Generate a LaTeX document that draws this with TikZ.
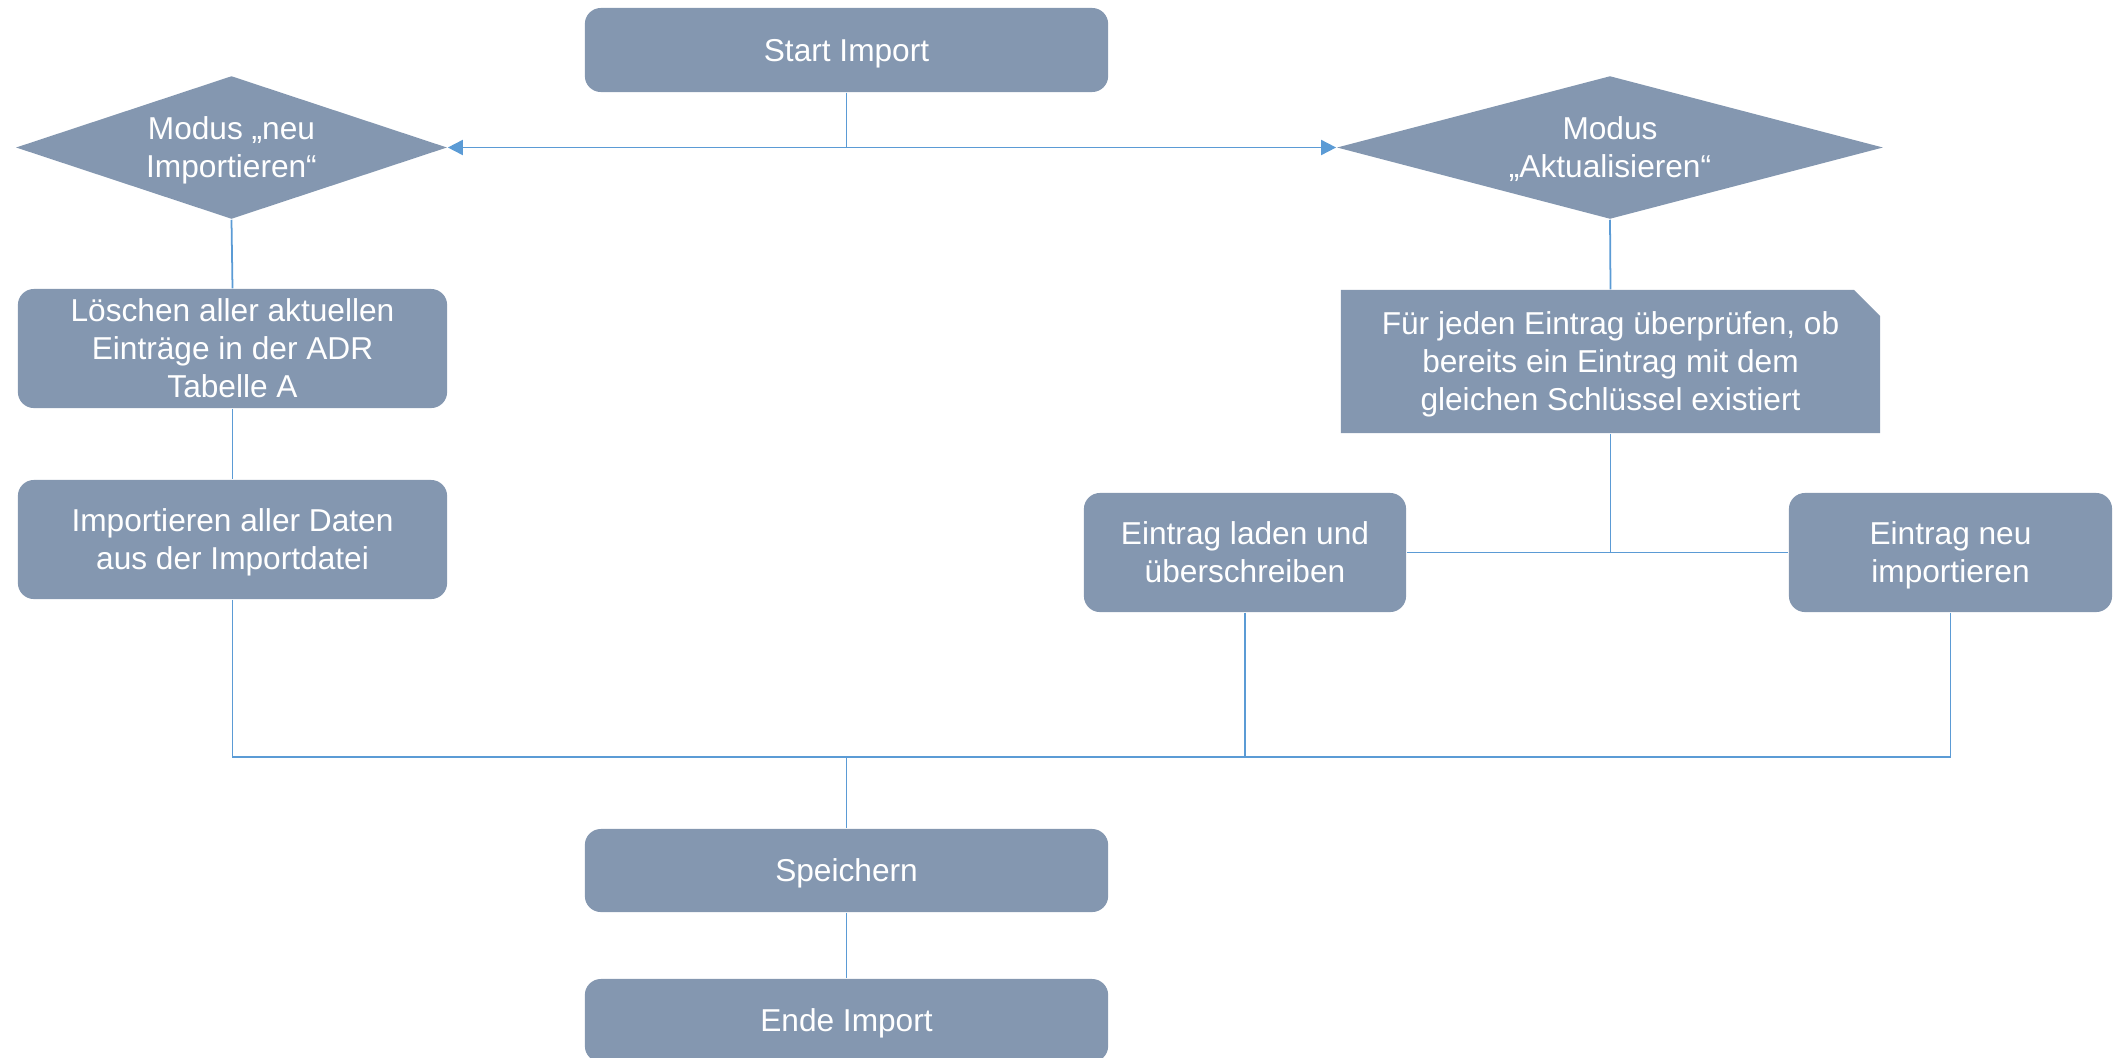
\documentclass[tikz,border=0pt]{standalone}
\usepackage{fontspec}
\setmainfont{Liberation Sans}
\usetikzlibrary{shapes.geometric,shapes.misc,arrows.meta,positioning,calc}
\definecolor{boxcolor}{HTML}{8497B0}
\definecolor{linecolor}{HTML}{5B9BD5}

\begin{document}
\begin{tikzpicture}[x=0.01cm, y=-0.01cm, font=\fontsize{9}{10.8}\selectfont,
  stepbox/.style={rectangle, rounded corners=0.16cm, fill=boxcolor, text=white,
                  align=center, inner sep=0pt, text depth=0pt},
  choice/.style={diamond, fill=boxcolor, text=white, align=center, inner sep=0pt,
                 minimum height=1.43cm, text depth=0pt},
  notebox/.style={chamfered rectangle, chamfered rectangle corners=north east,
                  chamfered rectangle xsep=0.13cm, chamfered rectangle ysep=0.13cm,
                  fill=boxcolor, text=white, align=center, inner sep=0pt, text depth=0pt},
  link/.style={draw=linecolor, line width=0.5pt},
  tip/.style={-{Triangle[length=4.3pt,width=4.3pt]}}]
  \useasboundingbox (0,0) rectangle (2124,1057);
  % Start and the two modes
  \node[stepbox, minimum width=5.23cm, minimum height=0.84cm] (start) at (846.5,50) {Start Import};
  \node[choice, minimum width=4.31cm, aspect=3]   (mneu) at (231.5,147.5) {Modus „neu\\Importieren“};
  \node[choice, minimum width=5.46cm, aspect=3.8] (makt) at (1610,147.5) {Modus\\„Aktualisieren“};
  % Left branch
  \node[stepbox, minimum width=4.29cm, minimum height=1.19cm] (loesch) at (232.5,348.5)
    {Löschen aller aktuellen\\Einträge in der ADR\\Tabelle A};
  \node[stepbox, minimum width=4.29cm, minimum height=1.19cm] (imp) at (232.5,539.5)
    {Importieren aller Daten\\aus der Importdatei};
  % Right branch
  \node[notebox, minimum width=5.39cm, minimum height=1.43cm] (pruef) at (1610.5,361.5)
    {Für jeden Eintrag überprüfen, ob\\bereits ein Eintrag mit dem\\gleichen Schlüssel existiert};
  \node[stepbox, minimum width=3.22cm, minimum height=1.19cm] (laden) at (1245,552.5)
    {Eintrag laden und\\überschreiben};
  \node[stepbox, minimum width=3.23cm, minimum height=1.19cm] (neu) at (1950.5,552.5)
    {Eintrag neu\\importieren};
  % End
  \node[stepbox, minimum width=5.23cm, minimum height=0.83cm] (speich) at (846.5,870.5) {Speichern};
  \node[stepbox, minimum width=5.23cm, minimum height=0.83cm] (ende) at (846.5,1020.5) {Ende Import};
  \coordinate (join) at (846.5,757);
  % Connectors
  \draw[link, tip] (start.south) |- (mneu.east);
  \draw[link, tip] (start.south) |- (makt.west);
  \draw[link] (mneu.south) -- (loesch.north);
  \draw[link] (loesch.south) -- (imp.north);
  \draw[link] (makt.south) -- (pruef.north);
  \draw[link] (pruef.south) |- (laden.east);
  \draw[link] (pruef.south) |- (neu.west);
  \draw[link] (imp.south) |- (join);
  \draw[link] (laden.south) |- (join);
  \draw[link] (neu.south) |- (join);
  \draw[link] (join) -- (speich.north);
  \draw[link] (speich.south) -- (ende.north);
\end{tikzpicture}
\end{document}
